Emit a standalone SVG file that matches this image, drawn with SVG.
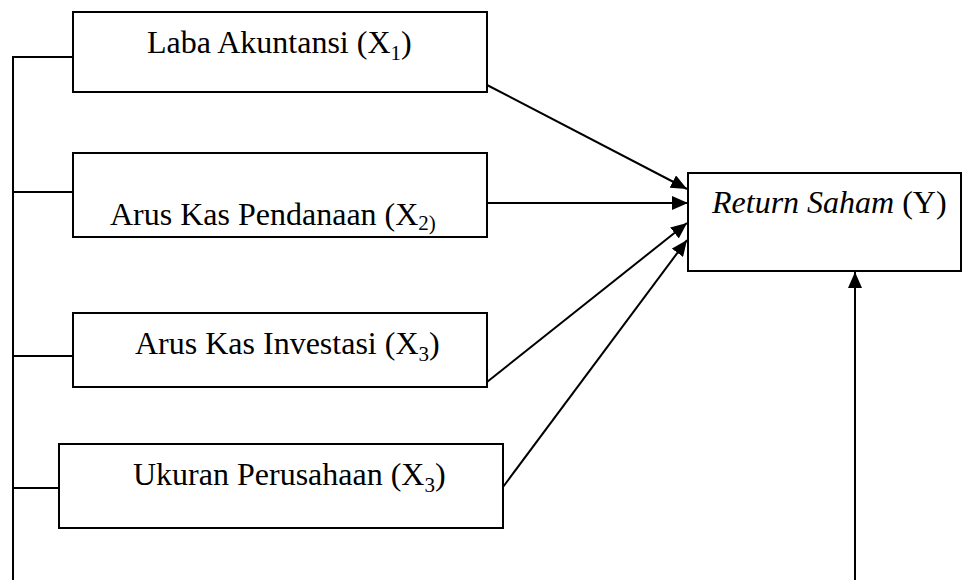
<svg xmlns="http://www.w3.org/2000/svg" width="962" height="580" viewBox="0 0 962 580">
<style>
.box{fill:#fff;stroke:#000;stroke-width:2}
.ln{fill:none;stroke:#000;stroke-width:2}
.ar{fill:none;stroke:#000;stroke-width:2;marker-end:url(#ah)}
text{font-family:"Liberation Serif","Times New Roman",serif;font-size:32px;fill:#000}
.sub{font-size:21px}
</style>
<defs>
<marker id="ah" viewBox="0 0 16 14" refX="16" refY="7" markerWidth="16" markerHeight="14" markerUnits="userSpaceOnUse" orient="auto">
<path d="M0,0 L16,7 L0,14 Z" fill="#000"/>
</marker>
</defs>
<rect width="962" height="580" fill="#fff"/>
<g id="connectors">
<polyline class="ln" points="73,57 13,57 13,580"/>
<line class="ln" x1="13" y1="192" x2="73" y2="192"/>
<line class="ln" x1="13" y1="356" x2="73" y2="356"/>
<line class="ln" x1="13" y1="488" x2="59" y2="488"/>
<line class="ar" x1="487" y1="85" x2="687" y2="189"/>
<line class="ar" x1="487" y1="203" x2="688" y2="203"/>
<line class="ar" x1="487" y1="382" x2="687" y2="223"/>
<line class="ar" x1="503" y1="487" x2="687" y2="240"/>
<line class="ar" x1="855" y1="580" x2="855" y2="272"/>
</g>
<g id="x1">
<rect class="box" x="73" y="12" width="414" height="80"/>
<text x="147" y="53">Laba Akuntansi (X<tspan class="sub" dy="7">1</tspan><tspan dy="-7">)</tspan></text>
</g>
<g id="x2">
<rect class="box" x="73" y="153" width="414" height="84"/>
<text x="110" y="225">Arus Kas Pendanaan (X<tspan class="sub" dy="5">2)</tspan></text>
</g>
<g id="x3">
<rect class="box" x="73" y="313" width="414" height="74"/>
<text x="135" y="354">Arus Kas Investasi (X<tspan class="sub" dy="7">3</tspan><tspan dy="-7">)</tspan></text>
</g>
<g id="x4">
<rect class="box" x="59" y="444" width="444" height="84"/>
<text x="133" y="485">Ukuran Perusahaan (X<tspan class="sub" dy="7">3</tspan><tspan dy="-7">)</tspan></text>
</g>
<g id="y">
<rect class="box" x="688" y="173" width="273" height="98"/>
<text x="712" y="213"><tspan font-style="italic">Return Saham</tspan> (Y)</text>
</g>
</svg>
